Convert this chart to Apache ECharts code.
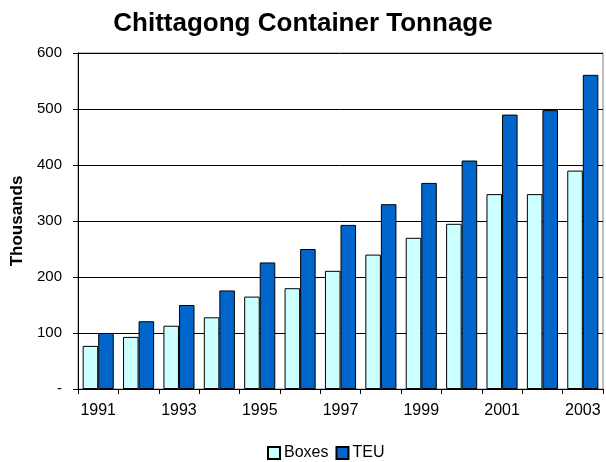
<!DOCTYPE html>
<html><head><meta charset="utf-8">
<script src="https://cdn.jsdelivr.net/npm/echarts@6/dist/echarts.min.js"></script>
<style>html,body{margin:0;padding:0;background:#fff}#c{width:606px;height:462px}</style>
</head><body><div id="c"></div>
<script>
const years = ['1991','1992','1993','1994','1995','1996','1997','1998','1999','2000','2001','2002','2003'];
const boxes = [77, 93, 113, 128, 165, 180, 211, 240, 270, 295, 348, 348, 390];
const teu = [100, 121, 150, 176, 226, 250, 293, 330, 368, 408, 490, 498, 561];
const yTicks = [0, 100, 200, 300, 400, 500, 600];

const chart = echarts.init(document.getElementById('c'), null, {renderer: 'canvas'});
const F = '"Liberation Sans", Arial, sans-serif';
chart.setOption({
  animation: false,
  backgroundColor: '#fff',
  title: {
    text: 'Chittagong Container Tonnage', left: 'center', top: 6,
    textStyle: {fontFamily: F, fontSize: 26, fontWeight: 'bold', color: '#000'}
  },
  legend: {
    top: 440, left: 262, itemWidth: 12, itemHeight: 12, itemGap: 7,
    icon: 'rect',
    textStyle: {fontFamily: F, fontSize: 16, color: '#000', padding: [0,0,0,-1]},
    data: ['Boxes', 'TEU']
  },
  grid: {left: 78, right: 3, top: 53, bottom: 73, show: true, borderColor: '#808080', borderWidth: 1,
         containLabel: false, outerBoundsMode: 'none'},
  xAxis: {
    type: 'category', data: years,
    axisLine: {lineStyle: {color: '#000', width: 1}},
    axisTick: {show: true, interval: 0, length: 5, lineStyle: {color: '#000'}},
    axisLabel: {interval: 1, fontFamily: F, fontSize: 16, color: '#000', margin: 14}
  },
  yAxis: {
    type: 'value', min: 0, max: 600, interval: 100,
    name: 'Thousands', nameLocation: 'middle', nameGap: 52, nameRotate: 90,
    nameTextStyle: {fontFamily: F, fontSize: 17, fontWeight: 'bold', color: '#000'},
    axisLine: {show: true, lineStyle: {color: '#000'}},
    axisTick: {show: true, length: 5, lineStyle: {color: '#000'}},
    splitLine: {lineStyle: {color: '#000', width: 1}},
    axisLabel: {
      fontFamily: F, fontSize: 15, color: '#000', margin: 16,
      formatter: v => (yTicks.indexOf(v) >= 0 ? (v === 0 ? '-' : String(v)) : '')
    }
  },
  series: [
    {name: 'Boxes', type: 'bar', data: boxes, barGap: '0%', barCategoryGap: '23%',
     itemStyle: {color: '#CCFFFF', borderColor: '#000', borderWidth: 1}},
    {name: 'TEU', type: 'bar', data: teu, barGap: '0%', barCategoryGap: '23%',
     itemStyle: {color: '#0066CC', borderColor: '#000', borderWidth: 1}}
  ]
});
</script></body></html>
